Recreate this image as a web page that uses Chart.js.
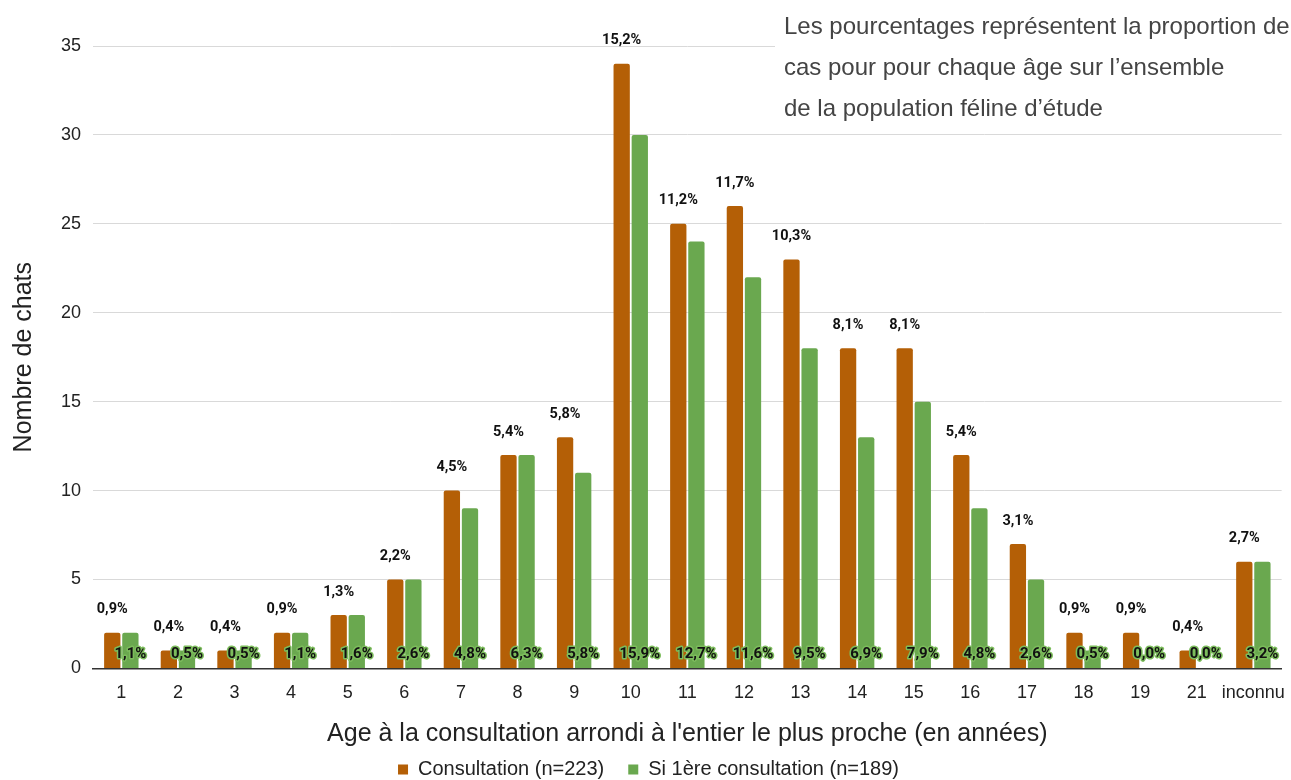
<!DOCTYPE html>
<html>
<head>
<meta charset="utf-8">
<script src="https://cdn.jsdelivr.net/npm/chart.js"></script>
<style>
  html, body { margin: 0; padding: 0; background: #fff; }
  #wrap { width: 1291px; height: 780px; position: relative; }
</style>
</head>
<body>
<div id="wrap"><canvas id="ageChart"></canvas></div>
<script>
const ages = ['1', '2', '3', '4', '5', '6', '7', '8', '9', '10', '11', '12', '13', '14', '15', '16', '17', '18', '19', '21', 'inconnu'];
const consultCounts = [2, 1, 1, 2, 3, 5, 10, 12, 13, 34, 25, 26, 23, 18, 18, 12, 7, 2, 2, 1, 6];
const firstCounts = [2, 1, 1, 2, 3, 5, 9, 12, 11, 30, 24, 22, 18, 13, 15, 9, 5, 1, 0, 0, 6];
const consultPct = ['0,9%', '0,4%', '0,4%', '0,9%', '1,3%', '2,2%', '4,5%', '5,4%', '5,8%', '15,2%', '11,2%', '11,7%', '10,3%', '8,1%', '8,1%', '5,4%', '3,1%', '0,9%', '0,9%', '0,4%', '2,7%'];
const firstPct = ['1,1%', '0,5%', '0,5%', '1,1%', '1,6%', '2,6%', '4,8%', '6,3%', '5,8%', '15,9%', '12,7%', '11,6%', '9,5%', '6,9%', '7,9%', '4,8%', '2,6%', '0,5%', '0,0%', '0,0%', '3,2%'];
const yTicks = [0, 5, 10, 15, 20, 25, 30, 35];
const noteLines = [
    'Les pourcentages représentent la proportion de',
    'cas pour pour chaque âge sur l’ensemble',
    'de la population féline d’étude'
];

const ORANGE = '#b45f06';
const GREEN = '#6aa84f';

// percentage labels, the note box and the legend are drawn by hand
const labelPlugin = {
    id: 'pctLabels',
    afterDatasetsDraw(chart) {
        const ctx = chart.ctx;
        const zeroY = chart.scales.y.getPixelForValue(0);
        ctx.save();
        ctx.textAlign = 'center';
        ctx.textBaseline = 'middle';

        // orange: above the bar
        ctx.font = 'bold 14.5px Roboto';
        ctx.fillStyle = '#111';
        chart.getDatasetMeta(0).data.forEach((bar, i) => {
            ctx.fillText(consultPct[i], bar.x, bar.y - 23);
        });

        // green: at the foot of the bar, with a green halo
        ctx.font = 'bold 15px Roboto';
        ctx.lineJoin = 'round';
        ctx.lineWidth = 3;
        ctx.strokeStyle = '#7cbc5c';
        chart.getDatasetMeta(1).data.forEach((bar, i) => {
            ctx.strokeText(firstPct[i], bar.x, zeroY - 14);
            ctx.fillStyle = '#111';
            ctx.fillText(firstPct[i], bar.x, zeroY - 14);
        });
        ctx.restore();
    },
    afterDraw(chart) {
        const ctx = chart.ctx;
        ctx.save();

        // note in the top right corner
        ctx.fillStyle = '#fff';
        ctx.fillRect(775, 0, chart.width - 775, 124);
        ctx.fillStyle = '#444';
        ctx.font = '24px "Liberation Sans"';
        ctx.textAlign = 'left';
        ctx.textBaseline = 'middle';
        noteLines.forEach((line, i) => ctx.fillText(line, 784, 27 + i * 41));

        // legend
        ctx.font = '20px "Liberation Sans"';
        const items = chart.data.datasets.map(ds => ({ text: ds.label, color: ds.backgroundColor, w: ctx.measureText(ds.label).width }));
        const box = 10, gap = 10, between = 24;
        const total = items.reduce((s, it) => s + box + gap + it.w, 0) + between * (items.length - 1);
        let x = 648.5 - total / 2;
        const y = 769.5;
        items.forEach(it => {
            ctx.fillStyle = it.color;
            ctx.fillRect(x, y - box / 2, box, box);
            ctx.fillStyle = '#222';
            ctx.fillText(it.text, x + box + gap, y);
            x += box + gap + it.w + between;
        });
        ctx.restore();
    }
};

new Chart(document.getElementById('ageChart').getContext('2d'), {
    type: 'bar',
    data: {
        labels: ages,
        datasets: [
            {
                label: 'Consultation (n=223)',
                data: consultCounts,
                backgroundColor: ORANGE,
                borderRadius: { topLeft: 2, topRight: 2 },
                borderSkipped: 'bottom',
                categoryPercentage: 0.64,
                barPercentage: 0.9
            },
            {
                label: 'Si 1ère consultation (n=189)',
                data: firstCounts,
                backgroundColor: GREEN,
                borderRadius: { topLeft: 2, topRight: 2 },
                borderSkipped: 'bottom',
                categoryPercentage: 0.64,
                barPercentage: 0.9
            }
        ]
    },
    options: {
        responsive: true,
        maintainAspectRatio: false,
        animation: false,
        layout: { padding: { top: 46, right: 5, left: 0, bottom: 31 } },
        plugins: {
            legend: { display: false },
            tooltip: { enabled: false }
        },
        scales: {
            x: {
                grid: { display: false },
                border: { color: '#333', width: 1.5 },
                ticks: { color: '#222', font: { family: 'Liberation Sans', size: 18 }, padding: 6, maxRotation: 0, autoSkip: false },
                title: {
                    display: true,
                    text: "Age à la consultation arrondi à l'entier le plus proche (en années)",
                    color: '#222',
                    font: { family: 'Liberation Sans', size: 25 },
                    padding: { top: 9, bottom: 0 }
                }
            },
            y: {
                min: 0,
                max: 35,
                afterBuildTicks: axis => { axis.ticks = yTicks.map(v => ({ value: v })); },
                grid: { color: '#d9d9d9', drawTicks: false },
                border: { display: false },
                ticks: { color: '#222', font: { family: 'Liberation Sans', size: 18 }, padding: 12 },
                title: {
                    display: true,
                    text: 'Nombre de chats',
                    color: '#222',
                    font: { family: 'Liberation Sans', size: 25 },
                    padding: { top: 9, bottom: 10 }
                }
            }
        }
    },
    plugins: [labelPlugin]
});
</script>
</body>
</html>
